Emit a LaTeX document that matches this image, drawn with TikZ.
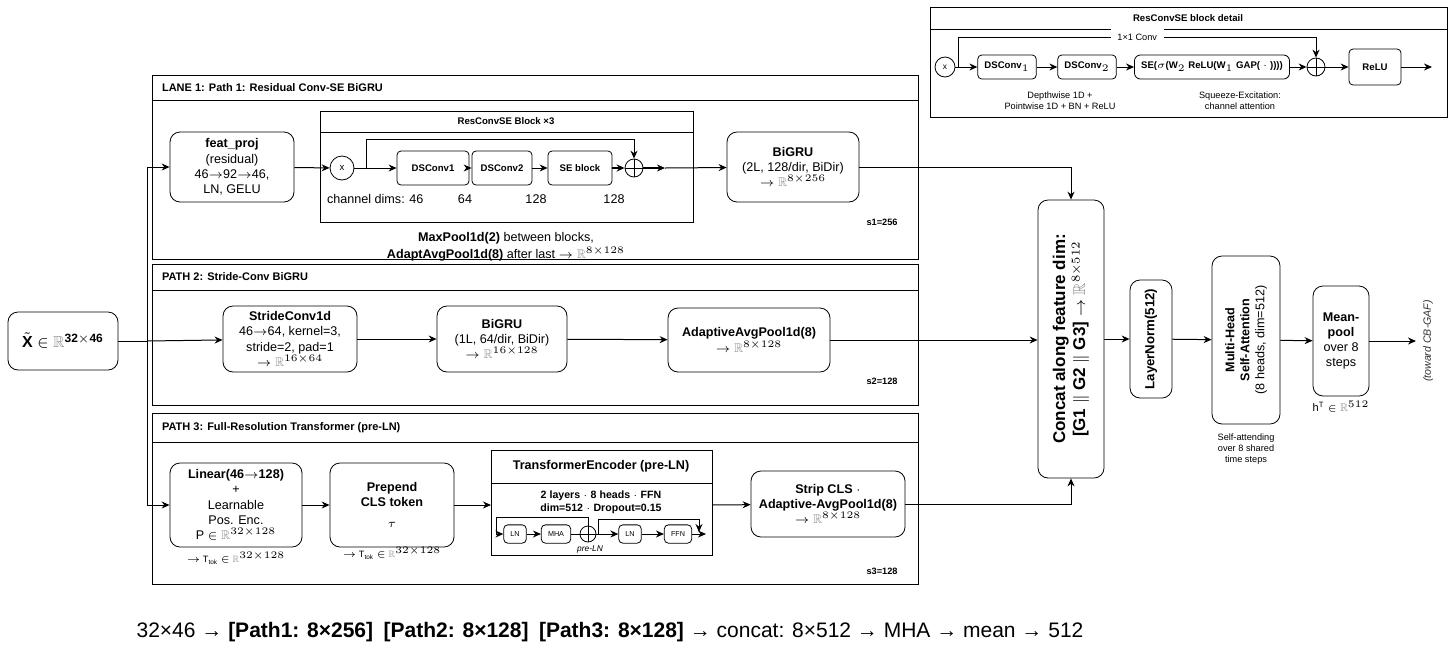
\documentclass[tikz,border=0pt]{standalone}
\usepackage{fontspec}
\usepackage{amssymb}
\setmainfont{Liberation Sans}
\usetikzlibrary{shapes,arrows.meta}
\newcommand{\RR}{\textcolor{black!45}{$\mathbb{R}$}}
\begin{document}
\begin{tikzpicture}[x=0.5pt,y=-0.5pt,>={Stealth[length=4pt,width=3.5pt]},font=\fontsize{6.3}{7.6}\selectfont]
\tikzstyle{blk}=[draw,rounded corners=5pt,align=center,inner sep=1pt]
\tikzstyle{sml}=[draw,rounded corners=2pt,align=center,font=\fontsize{4.8}{5.5}\selectfont\bfseries]
\tikzstyle{lane}=[draw,line width=0.4pt]
\tikzstyle{ttl}=[anchor=west,font=\fontsize{5.5}{6.5}\selectfont\bfseries]
\tikzstyle{note}=[align=center,font=\fontsize{4.6}{5.6}\selectfont]
\tikzstyle{conn}=[->,line width=0.5pt]
\useasboundingbox (0,0) rectangle (1456,649);
% lanes
\draw[lane] (152,75) rectangle (918,259); \draw (152,100) -- (918,100);
\node[ttl] at (155,88) {LANE 1: Path 1: Residual Conv-SE BiGRU};
\draw[lane] (152,264) rectangle (918,405); \draw (152,290) -- (918,290);
\node[ttl] at (155,277) {PATH 2: Stride-Conv BiGRU};
\draw[lane] (152,413) rectangle (918,584); \draw (152,442) -- (918,442);
\node[ttl] at (155,428) {PATH 3: Full-Resolution Transformer (pre-LN)};
% input
\node[blk,minimum width=55pt,minimum height=29pt,font=\fontsize{8}{9}\selectfont\bfseries] (in) at (63,341) {$\tilde{\mathbf X}$ $\in$ \RR$^{\mathbf{32\times46}}$};
\coordinate (split) at (147,341);
% lane 1
\node[blk,minimum width=62pt,minimum height=35pt] (fp) at (232,167) {\textbf{feat\_proj}\\(residual)\\46$\to$92$\to$46,\\LN, GELU};
\draw (320,111) rectangle (693,222); \draw (320,132) -- (693,132);
\node[font=\fontsize{4.8}{5.5}\selectfont\bfseries] at (506,121) {ResConvSE Block ×3};
\node[draw,circle,minimum size=12pt,inner sep=0pt,font=\fontsize{4.8}{5.5}\selectfont] (x1) at (342,168) {x};
\node[sml,minimum width=36pt,minimum height=17pt] (dc1) at (433,168) {DSConv1};
\node[sml,minimum width=30pt,minimum height=17pt] (dc2) at (502,168) {DSConv2};
\node[sml,minimum width=32pt,minimum height=17pt] (se) at (580,168) {SE block};
\node[circle,draw,inner sep=0pt,minimum size=9pt] (pl1) at (634,168) {};
\draw (pl1.north) -- (pl1.south) (pl1.west) -- (pl1.east);
\coordinate (o1) at (665,168);
\draw[conn] (x1) -- (dc1); \draw[conn] (dc1) -- (dc2); \draw[conn] (dc2) -- (se);
\draw[conn,line width=1pt] (se) -- (pl1); \draw[conn,line width=1pt] (pl1) -- (o1);
\draw[conn] (x1.east) -- ++(12,0) |- (634,139) -- (pl1.north);
\node[anchor=west] at (320,199) {channel dims: 46};
\node at (465,199) {64}; \node at (536,199) {128}; \node at (614,199) {128};
\node[align=center] at (506,247) {\textbf{MaxPool1d(2)} between blocks,\\[1pt]\textbf{AdaptAvgPool1d(8)} after last $\to$ \RR$^{8\times128}$};
\node[blk,minimum width=66pt,minimum height=35pt] (bg1) at (793,167) {\textbf{BiGRU}\\(2L, 128/dir, BiDir)\\$\to$ \RR$^{8\times256}$};
\node[note,font=\fontsize{4.6}{5.6}\selectfont\bfseries] at (882,222) {s1=256};
% lane 2
\node[blk,minimum width=67pt,minimum height=33pt] (sc) at (290,339) {\textbf{StrideConv1d}\\46$\to$64, kernel=3,\\stride=2, pad=1\\$\to$ \RR$^{16\times64}$};
\node[blk,minimum width=65pt,minimum height=33pt] (bg2) at (502,339) {\textbf{BiGRU}\\(1L, 64/dir, BiDir)\\$\to$ \RR$^{16\times128}$};
\node[blk,minimum width=81pt,minimum height=32pt] (ap2) at (749,340) {\textbf{AdaptiveAvgPool1d(8)}\\$\to$ \RR$^{8\times128}$};
\node[note,font=\fontsize{4.6}{5.6}\selectfont\bfseries] at (882,381) {s2=128};
% lane 3
\node[blk,minimum width=66pt,minimum height=42pt] (lin) at (236,505) {\textbf{Linear(46$\to$128)}\\+\\Learnable\\Pos. Enc.\\P $\in$ \RR$^{32\times128}$};
\node[note] at (236,558) {$\to$ T$_\mathrm{tok}$ $\in$ \RR$^{32\times128}$};
\node[blk,minimum width=62pt,minimum height=42pt] (cls) at (392,505) {\textbf{Prepend}\\\textbf{CLS token}\\[3pt]$\tau$};
\node[note] at (392,553) {$\to$ T$_\mathrm{tok}$ $\in$ \RR$^{32\times128}$};
\draw (491,450) rectangle (712,555); \draw (491,483) -- (712,483);
\node[font=\fontsize{6.3}{7.5}\selectfont\bfseries] at (601,466) {TransformerEncoder (pre-LN)};
\node[align=center,font=\fontsize{5.3}{6.3}\selectfont\bfseries] at (601,502) {2 layers $\cdot$ 8 heads $\cdot$ FFN\\dim=512 $\cdot$ Dropout=0.15};
\node[sml,font=\fontsize{3.6}{4}\selectfont,minimum width=10pt,minimum height=7pt] (ln1) at (515,534) {LN};
\node[sml,font=\fontsize{3.6}{4}\selectfont,minimum width=14pt,minimum height=7pt] (mha1) at (556,534) {MHA};
\node[circle,draw,inner sep=0pt,minimum size=8pt] (pl2) at (588,534) {};
\draw (pl2.north) -- (pl2.south) (pl2.west) -- (pl2.east);
\node[sml,font=\fontsize{3.6}{4}\selectfont,minimum width=10pt,minimum height=7pt] (ln2) at (630,534) {LN};
\node[sml,font=\fontsize{3.6}{4}\selectfont,minimum width=12pt,minimum height=7pt] (ffn) at (678,534) {FFN};
\coordinate (te) at (706,534);
\draw[conn] (496,534) -- (ln1); \draw[conn] (ln1) -- (mha1); \draw (mha1) -- (pl2);
\draw[conn] (pl2) -- (ln2); \draw[conn] (ln2) -- (ffn); \draw[conn] (ffn) -- (te);
\draw (496,534) |- (588,517) -- (pl2.north);
\draw[conn] (pl2.east) ++(2,0) |- (699,519) -- (699,532);
\node[note,font=\fontsize{4.2}{5}\selectfont\itshape] at (590,549) {pre-LN};
\node[blk,minimum width=77pt,minimum height=33pt] (sc3) at (828,504) {\textbf{Strip CLS $\cdot$}\\\textbf{Adaptive-AvgPool1d(8)}\\$\to$ \RR$^{8\times128}$};
\node[note,font=\fontsize{4.6}{5.6}\selectfont\bfseries] at (882,571) {s3=128};
% input fan-out
\draw (in) -- (split);
\draw (147,167) -- (147,505);
\draw[conn] (147,167) -- (fp); \draw[conn] (split) -- (sc); \draw[conn] (147,505) -- (lin);
\draw[conn] (fp) -- (x1); \draw[conn] (o1) -- (bg1);
\draw[conn] (sc) -- (bg2); \draw[conn] (bg2) -- (ap2);
\draw[conn] (lin) -- (cls); \draw[conn] (cls) -- (491,505); \draw[conn] (712,505) -- (sc3);
% fusion
\node[blk,minimum width=33pt,minimum height=139pt] (cat) at (1071,339) {};
\node[rotate=90,align=center,font=\fontsize{8.5}{10}\selectfont\bfseries] at (1071,339) {Concat along feature dim:\\{}[G1 $\Vert$ G2 $\Vert$ G3] $\to$ \RR$^{8\times512}$};
\draw[conn] (bg1) -| (cat.north);
\draw[conn] (ap2) -- (cat.west |- ap2);
\draw[conn] (sc3) -| (cat.south);
\node[blk,minimum width=21pt,minimum height=59pt] (ln) at (1151,339) {};
\node[rotate=90,font=\fontsize{6.6}{8}\selectfont\bfseries] at (1151,339) {LayerNorm(512)};
\node[blk,minimum width=34pt,minimum height=84pt] (mha) at (1246,340) {};
\node[rotate=90,align=center,font=\fontsize{6.3}{7.5}\selectfont] at (1246,340) {\textbf{Multi-Head}\\\textbf{Self-Attention}\\(8 heads, dim=512)};
\node[note] at (1246,449) {Self-attending\\over 8 shared\\time steps};
\node[blk,minimum width=28pt,minimum height=55pt] (mp) at (1341,341) {\textbf{Mean-}\\\textbf{pool}\\over 8\\steps};
\node[note,font=\fontsize{5.5}{6.5}\selectfont] at (1341,407) {h$^\mathrm{T}$ $\in$ \RR$^{512}$};
\node[rotate=90,font=\fontsize{5.3}{6.3}\selectfont\itshape,text=black!80] (cb) at (1428,341) {(toward CB-GAF)};
\draw[conn] (cat) -- (ln); \draw[conn] (ln) -- (mha); \draw[conn] (mha) -- (mp);
\draw[conn] (mp) -- (cb.north);
% detail inset
\draw[lane] (930,7) rectangle (1447,117); \draw (930,29) -- (1447,29);
\node[font=\fontsize{4.8}{5.5}\selectfont\bfseries] at (1188,18) {ResConvSE block detail};
\tikzstyle{dsm}=[sml,minimum height=12pt]
\node[draw,circle,minimum size=10pt,inner sep=0pt,font=\fontsize{4.2}{5}\selectfont] (dx) at (945,67) {x};
\node[dsm,minimum width=27pt] (d1) at (1007,67) {DSConv$_1$};
\node[dsm,minimum width=25pt] (d2) at (1087,67) {DSConv$_2$};
\node[dsm,minimum width=62pt,rounded corners=3pt] (dse) at (1212,67) {SE($\sigma$(W$_2$ ReLU(W$_1$ GAP( $\cdot$ ))))};
\node[circle,draw,inner sep=0pt,minimum size=9pt] (dp) at (1316,67) {};
\draw (dp.north) -- (dp.south) (dp.west) -- (dp.east);
\node[dsm,minimum width=26pt,minimum height=18pt] (dr) at (1375,67) {ReLU};
\coordinate (dout) at (1432,67);
\draw[conn] (dx) -- (d1); \draw[conn] (d1) -- (d2); \draw[conn] (d2) -- (dse);
\draw[conn] (dse) -- (dp); \draw[conn] (dp) -- (dr); \draw[conn] (dr) -- (dout);
\draw[conn] (dx.east) ++(3,0) |- (1316,37) node[pos=0.75,fill=white,font=\fontsize{4.6}{5.6}\selectfont] {1×1 Conv} -- (dp.north);
\node[note] at (1060,101) {Depthwise 1D +\\Pointwise 1D + BN + ReLU};
\node[note] at (1240,101) {Squeeze-Excitation:\\channel attention};
% summary
\node[font=\fontsize{10.5}{12}\selectfont] (sum) at (610,632) {32×46 → \textbf{[Path1: 8×256]}\enspace\textbf{[Path2: 8×128]}\enspace\textbf{[Path3: 8×128]} → concat: 8×512 → MHA → mean → 512};
\end{tikzpicture}
\end{document}
